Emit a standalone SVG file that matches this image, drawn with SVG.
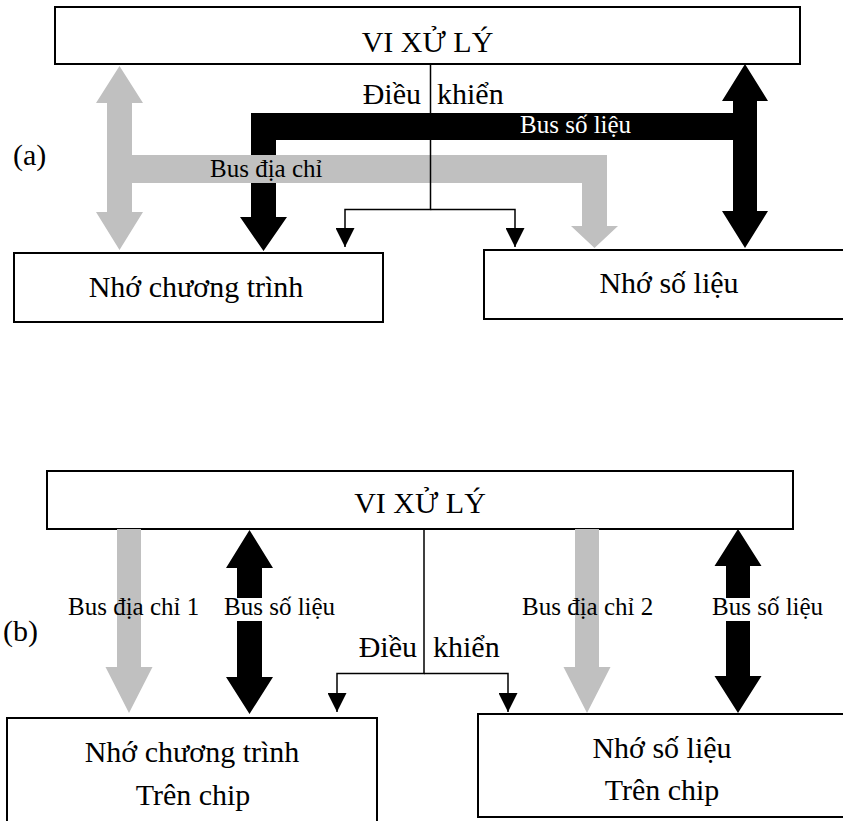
<svg xmlns="http://www.w3.org/2000/svg" width="843" height="821" viewBox="0 0 843 821">
  <style>
    .box { fill: #ffffff; stroke: #000000; stroke-width: 2; }
    .lbl { font-family: "Liberation Serif", "Times New Roman", serif; fill: #000000; }
    .big { font-size: 30px; }
    .bus { font-size: 25px; }
    .addr { fill: #c0c0c0; }
    .data { fill: #000000; }
    .knock { fill: #ffffff; }
    .ctrl { fill: none; stroke: #000000; stroke-width: 1.5; marker-end: url(#tip); }
  </style>
  <defs>
    <marker id="tip" viewBox="0 0 20 20" refX="20" refY="10" markerWidth="19" markerHeight="19" markerUnits="userSpaceOnUse" orient="auto">
      <path d="M0,0 L20,10 L0,20 z" fill="#000000"/>
    </marker>
  </defs>

  <!-- (a) shared program/data memory buses -->
  <text class="lbl big" x="13" y="165" font-size="29">(a)</text>

  <g id="a-cpu">
    <rect class="box" x="55" y="7" width="745" height="57"/>
    <text class="lbl big" x="427.5" y="52" text-anchor="middle">VI XỬ LÝ</text>
  </g>
  <g id="a-prog-mem">
    <rect class="box" x="14" y="253" width="369" height="69"/>
    <text class="lbl big" x="196" y="297" text-anchor="middle">Nhớ chương trình</text>
  </g>
  <g id="a-data-mem">
    <rect class="box" x="484" y="250" width="400" height="69"/>
    <text class="lbl big" x="669" y="293" text-anchor="middle">Nhớ số liệu</text>
  </g>

  <g id="a-connectors">
    <!-- data bus -->
    <polygon class="data" points="251,113 733,113 733,140 276,140 276,217 287,217 263.5,251 240,217 251,217"/>
    <polygon class="data" points="745,64 768,101 757,101 757,211 768,211 745,248 722,211 733,211 733,101 722,101"/>
    <!-- address bus -->
    <polygon class="addr" points="119.5,66 143,103 132,103 132,212 143,212 119.5,250 96,212 107,212 107,103 96,103"/>
    <polygon class="addr" points="132,155 607,155 607,226 618,226 594.5,248 571,226 582,226 582,183 132,183"/>
    <!-- control lines -->
    <path class="ctrl" d="M430.5,64 V209.5 H345 V247"/>
    <path class="ctrl" d="M430.5,209.5 H515 V247"/>
    <text class="lbl bus" x="520" y="133" style="fill:#ffffff">Bus số liệu</text>
    <text class="lbl bus" x="210" y="177">Bus địa chỉ</text>
    <text class="lbl big" x="421" y="104" text-anchor="end">Điều</text>
    <text class="lbl big" x="437" y="104">khiển</text>
  </g>

  <!-- (b) separate on-chip memories -->
  <text class="lbl big" x="3" y="641">(b)</text>

  <g id="b-cpu">
    <rect class="box" x="47" y="471" width="746" height="58"/>
    <text class="lbl big" x="420" y="513" text-anchor="middle">VI XỬ LÝ</text>
  </g>
  <g id="b-prog-mem">
    <rect class="box" x="7" y="718" width="370" height="120"/>
    <text class="lbl big" x="192" y="762" text-anchor="middle">Nhớ chương trình</text>
    <text class="lbl big" x="193" y="805" text-anchor="middle">Trên chip</text>
  </g>
  <g id="b-data-mem">
    <rect class="box" x="478" y="714" width="400" height="103"/>
    <text class="lbl big" x="662" y="758" text-anchor="middle">Nhớ số liệu</text>
    <text class="lbl big" x="662" y="800" text-anchor="middle">Trên chip</text>
  </g>

  <g id="b-connectors">
    <polygon class="addr" points="117,529 141,529 141,667 152.5,667 129,713 105.5,667 117,667"/>
    <polygon class="data" points="249.5,530 273,568 262,568 262,677 273,677 249.5,714 226,677 237,677 237,568 226,568"/>
    <polygon class="addr" points="575,529 599,529 599,667 610.5,667 587,713 563.5,667 575,667"/>
    <polygon class="data" points="738,529 761.5,566 750,566 750,676 761.5,676 738,713 714.5,676 726,676 726,566 714.5,566"/>
    <!-- white label backing where the data-bus labels cross the shafts -->
    <rect class="knock" x="236" y="598" width="27" height="23"/>
    <rect class="knock" x="725" y="598" width="26" height="23"/>
    <path class="ctrl" d="M424,529 V673.5 H337 V712"/>
    <path class="ctrl" d="M424,673.5 H508 V712"/>
    <text class="lbl bus" x="68" y="615">Bus địa chỉ 1</text>
    <text class="lbl bus" x="224" y="615">Bus số liệu</text>
    <text class="lbl bus" x="522" y="615">Bus địa chỉ 2</text>
    <text class="lbl bus" x="712" y="615">Bus số liệu</text>
    <text class="lbl big" x="417" y="657" text-anchor="end">Điều</text>
    <text class="lbl big" x="433" y="657">khiển</text>
  </g>
</svg>
